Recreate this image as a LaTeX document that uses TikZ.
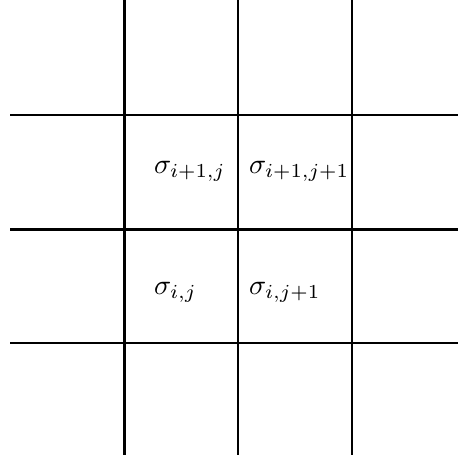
\documentclass[tikz,border=0pt]{standalone}
\begin{document}
\begin{tikzpicture}[x=0.3125pt,y=-0.3125pt,
  thin line/.style={line width=0.68pt},
  thick line/.style={line width=1pt},
  lab/.style={anchor=base west,inner sep=0pt,outer sep=0pt,scale=0.885}]
\useasboundingbox (0,0) rectangle (458,458);
% vertical lines
\coordinate (v1t) at (124.5,0);   \coordinate (v1b) at (124.5,455);
\coordinate (v2t) at (238,0);     \coordinate (v2b) at (238,455);
\coordinate (v3t) at (352,0);     \coordinate (v3b) at (352,455);
\draw[thick line] (v1t) -- (v1b);
\draw[thin line] (v2t) -- (v2b);
\draw[thin line] (v3t) -- (v3b);
% horizontal lines
\coordinate (h1l) at (10,115);    \coordinate (h1r) at (470,115);
\coordinate (h2l) at (10,229.5);  \coordinate (h2r) at (470,229.5);
\coordinate (h3l) at (10,343);    \coordinate (h3r) at (470,343);
\draw[thin line] (h1l) -- (h1r);
\draw[thick line] (h2l) -- (h2r);
\draw[thin line] (h3l) -- (h3r);
% labels
\node[lab] (s11) at (154,173) {$\sigma_{i+1,j}$};
\node[lab] (s12) at (249,173) {$\sigma_{i+1,j+1}$};
\node[lab] (s21) at (154,294) {$\sigma_{i,j}$};
\node[lab] (s22) at (249,294) {$\sigma_{i,j+1}$};
\end{tikzpicture}
\end{document}
